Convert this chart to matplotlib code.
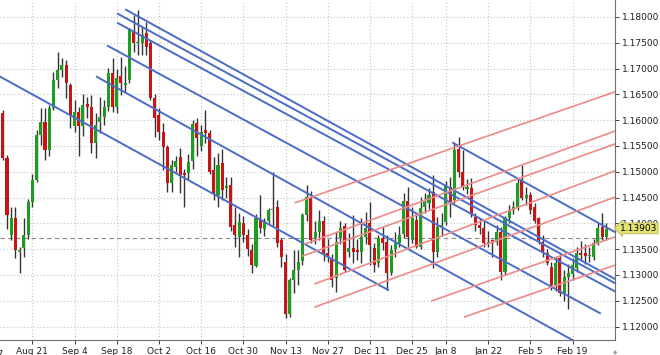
import matplotlib
matplotlib.use('Agg')
import matplotlib.pyplot as plt
import numpy as np

# daily candles, one per trading day (index 0 .. 143)
opens = [1.1614, 1.1527, 1.1378, 1.1410, 1.1345, 1.1352, 1.1378, 1.1442, 1.1484, 1.1571,
         1.1597, 1.1542, 1.1624, 1.1678, 1.1697, 1.1707, 1.1668, 1.1588, 1.1616, 1.1588,
         1.1632, 1.1626, 1.1556, 1.1596, 1.1606, 1.1626, 1.1692, 1.1625, 1.1685, 1.1668,
         1.1678, 1.1771, 1.1750, 1.1750, 1.1769, 1.1750, 1.1643, 1.1610, 1.1577, 1.1548,
         1.1478, 1.1510, 1.1529, 1.1498, 1.1498, 1.1520, 1.1594, 1.1549, 1.1580, 1.1575,
         1.1504, 1.1455, 1.1517, 1.1468, 1.1474, 1.1397, 1.1374, 1.1401, 1.1378, 1.1349,
         1.1318, 1.1407, 1.1390, 1.1405, 1.1425, 1.1432, 1.1368, 1.1326, 1.1225, 1.1290,
         1.1310, 1.1327, 1.1416, 1.1452, 1.1372, 1.1384, 1.1404, 1.1343, 1.1333, 1.1294,
         1.1372, 1.1394, 1.1345, 1.1352, 1.1349, 1.1345, 1.1374, 1.1401, 1.1352, 1.1323,
         1.1372, 1.1364, 1.1304, 1.1350, 1.1362, 1.1380, 1.1443, 1.1368, 1.1407, 1.1354,
         1.1432, 1.1440, 1.1461, 1.1345, 1.1393, 1.1403, 1.1471, 1.1445, 1.1544, 1.1500,
         1.1467, 1.1469, 1.1412, 1.1397, 1.1391, 1.1364, 1.1368, 1.1364, 1.1383, 1.1305,
         1.1410, 1.1426, 1.1432, 1.1484, 1.1449, 1.1455, 1.1432, 1.1410, 1.1364, 1.1343,
         1.1316, 1.1281, 1.1333, 1.1265, 1.1297, 1.1301, 1.1313, 1.1343, 1.1342, 1.1336,
         1.1335, 1.1362, 1.1393, 1.1374]
highs = [1.1620, 1.1532, 1.1432, 1.1432, 1.1354, 1.1410, 1.1448, 1.1495, 1.1580, 1.1624,
         1.1624, 1.1630, 1.1693, 1.1732, 1.1720, 1.1717, 1.1672, 1.1640, 1.1625, 1.1650,
         1.1645, 1.1649, 1.1614, 1.1645, 1.1640, 1.1701, 1.1720, 1.1700, 1.1722, 1.1705,
         1.1778, 1.1804, 1.1814, 1.1781, 1.1790, 1.1755, 1.1650, 1.1624, 1.1595, 1.1552,
         1.1522, 1.1530, 1.1547, 1.1505, 1.1535, 1.1600, 1.1605, 1.1590, 1.1620, 1.1580,
         1.1529, 1.1536, 1.1545, 1.1490, 1.1490, 1.1432, 1.1420, 1.1415, 1.1390, 1.1360,
         1.1418, 1.1455, 1.1410, 1.1430, 1.1500, 1.1445, 1.1372, 1.1340, 1.1295, 1.1348,
         1.1348, 1.1420, 1.1474, 1.1462, 1.1405, 1.1426, 1.1414, 1.1370, 1.1340, 1.1384,
         1.1405, 1.1400, 1.1381, 1.1416, 1.1370, 1.1410, 1.1422, 1.1442, 1.1362, 1.1378,
         1.1395, 1.1378, 1.1358, 1.1384, 1.1395, 1.1459, 1.1470, 1.1432, 1.1420, 1.1451,
         1.1458, 1.1468, 1.1494, 1.1412, 1.1420, 1.1482, 1.1490, 1.1555, 1.1567, 1.1542,
         1.1486, 1.1488, 1.1420, 1.1410, 1.1405, 1.1385, 1.1370, 1.1397, 1.1393, 1.1415,
         1.1435, 1.1443, 1.1486, 1.1513, 1.1470, 1.1460, 1.1440, 1.1412, 1.1378, 1.1350,
         1.1326, 1.1335, 1.1340, 1.1310, 1.1322, 1.1333, 1.1355, 1.1365, 1.1360, 1.1355,
         1.1370, 1.1401, 1.1420, 1.1400]
lows = [1.1522, 1.1390, 1.1368, 1.1333, 1.1304, 1.1335, 1.1370, 1.1432, 1.1480, 1.1552,
        1.1522, 1.1530, 1.1620, 1.1662, 1.1683, 1.1643, 1.1585, 1.1578, 1.1530, 1.1570,
        1.1605, 1.1536, 1.1527, 1.1575, 1.1590, 1.1618, 1.1615, 1.1614, 1.1649, 1.1655,
        1.1672, 1.1732, 1.1726, 1.1726, 1.1726, 1.1640, 1.1567, 1.1562, 1.1504, 1.1461,
        1.1461, 1.1500, 1.1459, 1.1432, 1.1485, 1.1505, 1.1530, 1.1540, 1.1555, 1.1495,
        1.1445, 1.1432, 1.1445, 1.1450, 1.1385, 1.1354, 1.1335, 1.1363, 1.1336, 1.1304,
        1.1315, 1.1381, 1.1375, 1.1400, 1.1393, 1.1355, 1.1316, 1.1216, 1.1218, 1.1265,
        1.1280, 1.1320, 1.1405, 1.1362, 1.1360, 1.1368, 1.1328, 1.1326, 1.1277, 1.1267,
        1.1360, 1.1305, 1.1335, 1.1323, 1.1330, 1.1323, 1.1360, 1.1319, 1.1306, 1.1315,
        1.1348, 1.1271, 1.1300, 1.1335, 1.1355, 1.1372, 1.1354, 1.1362, 1.1352, 1.1350,
        1.1420, 1.1428, 1.1314, 1.1335, 1.1375, 1.1397, 1.1413, 1.1440, 1.1490, 1.1465,
        1.1457, 1.1412, 1.1385, 1.1380, 1.1354, 1.1355, 1.1335, 1.1358, 1.1290, 1.1300,
        1.1400, 1.1418, 1.1425, 1.1445, 1.1435, 1.1418, 1.1400, 1.1360, 1.1335, 1.1320,
        1.1271, 1.1269, 1.1260, 1.1250, 1.1234, 1.1290, 1.1305, 1.1327, 1.1322, 1.1325,
        1.1330, 1.1358, 1.1368, 1.1368]
closes = [1.1527, 1.1416, 1.1410, 1.1348, 1.1348, 1.1378, 1.1442, 1.1484, 1.1571, 1.1597,
          1.1542, 1.1624, 1.1678, 1.1697, 1.1707, 1.1672, 1.1610, 1.1616, 1.1588, 1.1630,
          1.1626, 1.1556, 1.1591, 1.1606, 1.1626, 1.1692, 1.1625, 1.1682, 1.1672, 1.1673,
          1.1775, 1.1750, 1.1752, 1.1765, 1.1742, 1.1643, 1.1604, 1.1577, 1.1548, 1.1478,
          1.1513, 1.1520, 1.1494, 1.1494, 1.1519, 1.1592, 1.1565, 1.1578, 1.1575, 1.1500,
          1.1459, 1.1513, 1.1465, 1.1472, 1.1393, 1.1378, 1.1402, 1.1378, 1.1350, 1.1320,
          1.1411, 1.1392, 1.1405, 1.1425, 1.1428, 1.1362, 1.1335, 1.1225, 1.1290, 1.1310,
          1.1325, 1.1416, 1.1452, 1.1368, 1.1384, 1.1404, 1.1343, 1.1335, 1.1290, 1.1364,
          1.1391, 1.1310, 1.1352, 1.1345, 1.1345, 1.1374, 1.1391, 1.1358, 1.1319, 1.1372,
          1.1362, 1.1304, 1.1348, 1.1362, 1.1378, 1.1443, 1.1374, 1.1410, 1.1354, 1.1430,
          1.1442, 1.1455, 1.1345, 1.1393, 1.1397, 1.1474, 1.1442, 1.1542, 1.1500, 1.1471,
          1.1471, 1.1416, 1.1397, 1.1391, 1.1362, 1.1362, 1.1362, 1.1383, 1.1306, 1.1410,
          1.1426, 1.1432, 1.1479, 1.1449, 1.1455, 1.1426, 1.1405, 1.1368, 1.1345, 1.1323,
          1.1281, 1.1323, 1.1265, 1.1296, 1.1303, 1.1320, 1.1343, 1.1338, 1.1336, 1.1339,
          1.1362, 1.1391, 1.1374, 1.1390]

# date labels and the bar index where each grid line sits
tick_idx = [7, 17, 27, 37, 47, 57, 67, 77, 87, 97, 105, 115, 125, 135]
tick_lbl = ['Aug 21', 'Sep 4', 'Sep 18', 'Oct 2', 'Oct 16', 'Oct 30', 'Nov 13',
            'Nov 27', 'Dec 11', 'Dec 25', 'Jan 8', 'Jan 22', 'Feb 5', 'Feb 19']
price_ticks = [1.120, 1.125, 1.130, 1.135, 1.140, 1.145, 1.150, 1.155,
               1.160, 1.165, 1.170, 1.175, 1.180]

# trend lines: (bar0, price0, bar1, price1)
blue_lines = [(-1.0, 1.1686, 91.3, 1.1271),
              (22.3, 1.1684, 146.0, 1.1124),
              (24.9, 1.1744, 141.5, 1.1226),
              (29.2, 1.1814, 145.1, 1.1292),
              (27.3, 1.1806, 145.1, 1.1284),
              (27.3, 1.1788, 145.1, 1.1268),
              (106.7, 1.1556, 145.1, 1.1383)]
red_lines = [(69.3, 1.1440, 145.1, 1.1655),
             (71.6, 1.1360, 145.1, 1.1579),
             (71.1, 1.1337, 145.1, 1.1554),
             (74.0, 1.1283, 145.1, 1.1502),
             (74.0, 1.1238, 145.1, 1.1451),
             (101.7, 1.1250, 145.1, 1.1374),
             (109.5, 1.1219, 145.1, 1.1319)]

last_price = 1.13903
dash_level = 1.1372

fig = plt.figure(figsize=(6.6, 3.55), dpi=100)
ax = fig.add_axes([0, 15 / 355, 615 / 660, 340 / 355])

x = np.arange(len(opens))
o = np.array(opens)
c = np.array(closes)
up = c >= o
cols = np.where(up, '#1e9e1e', '#c81414')

ax.vlines(x, lows, highs, color='#333333', lw=1, zorder=3)
body = np.maximum(np.abs(c - o), 0.00006)
ax.bar(x, body, bottom=np.minimum(o, c), width=0.72, color=cols, lw=0, zorder=4)

for x0, p0, x1, p1 in blue_lines:
    ax.plot([x0, x1], [p0, p1], color='#4a6cc8', lw=1.4, zorder=5)
for x0, p0, x1, p1 in red_lines:
    ax.plot([x0, x1], [p0, p1], color='#ec8a8a', lw=1.2, zorder=5)

ax.axhline(dash_level, color='#888888', lw=0.8, ls=(0, (4, 3)), zorder=2)

ax.set_xlim(-0.66, 145.07)
ax.set_ylim(1.11740, 1.18329)

ax.set_xticks(tick_idx)
ax.set_xticklabels(tick_lbl)
ax.set_yticks(price_ticks)
ax.set_yticklabels(['%.5f' % p for p in price_ticks])
ax.yaxis.tick_right()
ax.tick_params(axis='both', labelsize=6.5, colors='#202020', length=3, width=0.6, pad=2)
ax.grid(True, color='#c4c4c4', ls=(0, (1, 2)), lw=0.8)
ax.set_axisbelow(True)

for s in ['top', 'left']:
    ax.spines[s].set_visible(False)
for s in ['right', 'bottom']:
    ax.spines[s].set_color('#707070')
    ax.spines[s].set_linewidth(0.8)

# first date label, cut by the left edge
ax.text(-3, -0.028, 'Aug 7', transform=ax.get_xaxis_transform(), ha='center', va='top',
        fontsize=6.5, color='#202020', clip_on=False)

# small marker in the bottom-right corner
ax.text(1.0, -0.03, '\u25c6', transform=ax.transAxes, ha='center', va='top',
        fontsize=4, color='#a0a0a0', clip_on=False)

ax.annotate('%.5f' % last_price, xy=(1.0, last_price), xycoords=('axes fraction', 'data'),
            xytext=(3.5, 0), textcoords='offset points', ha='left', va='center', fontsize=6.5,
            color='black', zorder=10,
            bbox=dict(boxstyle='larrow,pad=0.1', fc='#e2e272', ec='#b8b850', lw=0.6))

fig.savefig('out.png', dpi=100)
